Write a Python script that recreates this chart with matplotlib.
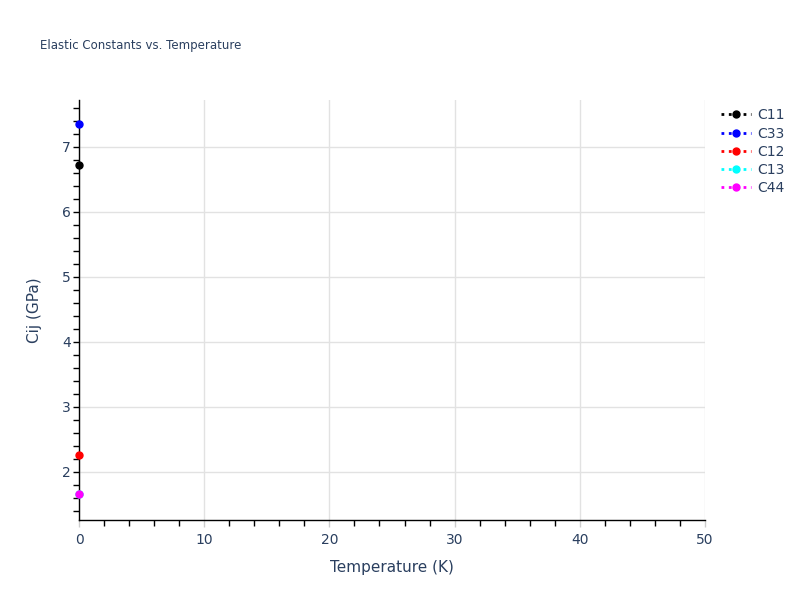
import numpy as np
import matplotlib.pyplot as plt
from matplotlib.ticker import MultipleLocator

# data
temperature = [0.0]
c11 = [6.72]
c33 = [7.35]
c12 = [2.26]
c13 = [1.66]
c44 = [1.66]

series_names = ["C11", "C33", "C12", "C13", "C44"]
series_values = [c11, c33, c12, c13, c44]
series_colors = ["black", "blue", "red", "cyan", "magenta"]

textcol = "#2a3f5f"

fig = plt.figure(figsize=(8, 6), dpi=100)
ax = fig.add_axes([79 / 800, 80 / 600, 626 / 800, 420 / 600])

for name, vals, col in zip(series_names, series_values, series_colors):
    ax.plot(temperature, vals, linestyle=":", color=col, marker="o",
            markersize=5, linewidth=2, label=name, clip_on=False, zorder=3)

ax.set_xlim(0, 50)
ax.set_ylim(1.26, 7.72)
ax.xaxis.set_major_locator(MultipleLocator(10))
ax.xaxis.set_minor_locator(MultipleLocator(2))
ax.yaxis.set_major_locator(MultipleLocator(1))
ax.yaxis.set_minor_locator(MultipleLocator(0.2))

ax.grid(True, which="major", color="#e2e2e2", linewidth=1)
ax.set_axisbelow(True)
for s in ["top", "right"]:
    ax.spines[s].set_visible(False)
for s in ["left", "bottom"]:
    ax.spines[s].set_color("black")
    ax.spines[s].set_linewidth(1)

ax.tick_params(axis="both", which="major", labelsize=10, labelcolor=textcol,
               color="#cccccc", length=5, width=1, pad=4)
ax.tick_params(axis="both", which="minor", color="black", length=4, width=1)
ax.tick_params(axis="y", which="major", color="black", length=4, pad=2)

ax.set_xlabel("Temperature (K)", fontsize=11, color=textcol, labelpad=10)
ax.set_ylabel("Cij (GPa)", fontsize=11, color=textcol, labelpad=14)
fig.text(40 / 800, 1 - 45 / 600, "Elastic Constants vs. Temperature",
         fontsize=8.5, color=textcol, va="center", ha="left")

leg = ax.legend(loc="upper left", bbox_to_anchor=(1.012, 1.0), frameon=False,
                fontsize=10, labelcolor=textcol, handlelength=2.2,
                borderaxespad=0.2, labelspacing=0.3, handletextpad=0.4)

fig.savefig("out.png", dpi=100)
